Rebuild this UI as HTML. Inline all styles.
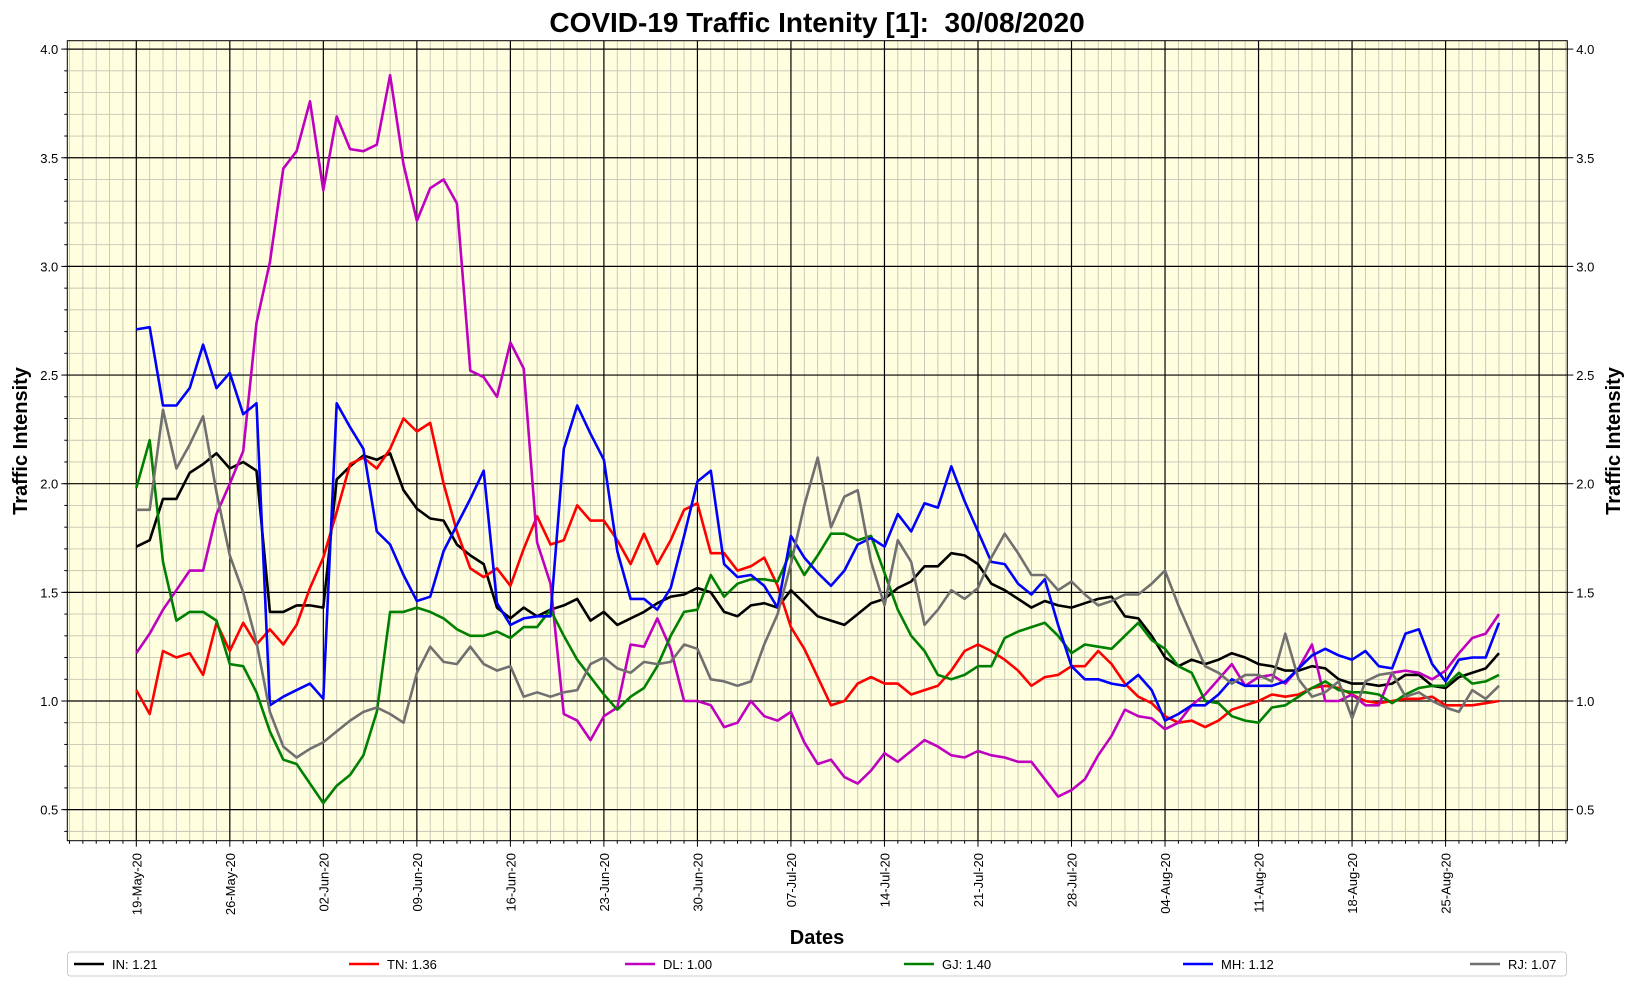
<!DOCTYPE html>
<html><head><meta charset="utf-8"><style>
body{margin:0;background:#fff;}
svg{display:block;font-family:"Liberation Sans","DejaVu Sans",sans-serif;}
</style></head><body>
<svg id="chart" width="1634" height="986" xmlns="http://www.w3.org/2000/svg">
<text x="817" y="32" font-size="28" font-weight="bold" text-anchor="middle">COVID-19 Traffic Intenity [1]:&#160; 30/08/2020</text>
<text transform="translate(27,441) rotate(-90)" font-size="20" font-weight="bold" text-anchor="middle">Traffic Intensity</text>
<text transform="translate(1620,441) rotate(-90)" font-size="20" font-weight="bold" text-anchor="middle">Traffic Intensity</text>
<text x="817" y="944" font-size="20" font-weight="bold" text-anchor="middle">Dates</text>
<g id="grid"></g><g id="series"></g><g id="axes"></g><g id="legend"></g>
</svg>
<script>
const tickLabels=["19-May-20","26-May-20","02-Jun-20","09-Jun-20","16-Jun-20","23-Jun-20","30-Jun-20","07-Jul-20","14-Jul-20","21-Jul-20","28-Jul-20","04-Aug-20","11-Aug-20","18-Aug-20","25-Aug-20"];
const yTicks=[0.5,1.0,1.5,2.0,2.5,3.0,3.5,4.0];
const seriesNames=["IN","TN","DL","GJ","MH","RJ"];
const legendLabels=["IN: 1.21","TN: 1.36","DL: 1.00","GJ: 1.40","MH: 1.12","RJ: 1.07"];
const IN=[1.71,1.74,1.93,1.93,2.05,2.09,2.14,2.07,2.10,2.06,1.41,1.41,1.44,1.44,1.43,2.02,2.08,2.13,2.11,2.14,1.97,1.885,1.84,1.83,1.72,1.67,1.63,1.43,1.38,1.43,1.39,1.42,1.44,1.47,1.37,1.41,1.35,1.38,1.41,1.45,1.48,1.49,1.52,1.50,1.41,1.39,1.44,1.45,1.43,1.51,1.45,1.39,1.37,1.35,1.40,1.45,1.47,1.52,1.55,1.62,1.62,1.68,1.67,1.63,1.54,1.51,1.47,1.43,1.46,1.44,1.43,1.45,1.47,1.48,1.39,1.38,1.30,1.20,1.16,1.19,1.17,1.19,1.22,1.20,1.17,1.16,1.14,1.14,1.16,1.15,1.10,1.08,1.08,1.07,1.08,1.12,1.12,1.07,1.06,1.11,1.13,1.15,1.22];
const TN=[1.05,0.94,1.23,1.20,1.22,1.12,1.36,1.23,1.36,1.26,1.33,1.26,1.35,1.52,1.66,1.87,2.09,2.12,2.07,2.16,2.30,2.24,2.28,2.00,1.78,1.61,1.57,1.61,1.53,1.70,1.85,1.72,1.74,1.90,1.83,1.83,1.74,1.63,1.77,1.63,1.74,1.88,1.91,1.68,1.68,1.60,1.62,1.66,1.53,1.34,1.24,1.11,0.98,1.00,1.08,1.11,1.08,1.08,1.03,1.05,1.07,1.14,1.23,1.26,1.23,1.19,1.14,1.07,1.11,1.12,1.16,1.16,1.23,1.17,1.08,1.02,0.99,0.93,0.90,0.91,0.88,0.91,0.96,0.98,1.00,1.03,1.02,1.03,1.06,1.07,1.06,1.03,1.00,0.99,1.00,1.01,1.01,1.02,0.98,0.98,0.98,0.99,1.00];
const DL=[1.22,1.31,1.42,1.51,1.60,1.60,1.86,2.00,2.15,2.74,3.02,3.45,3.53,3.76,3.35,3.69,3.54,3.53,3.56,3.88,3.47,3.21,3.36,3.40,3.29,2.52,2.49,2.40,2.65,2.53,1.73,1.54,0.94,0.91,0.82,0.93,0.97,1.26,1.25,1.38,1.24,1.00,1.00,0.98,0.88,0.90,1.00,0.93,0.91,0.95,0.81,0.71,0.73,0.65,0.62,0.68,0.76,0.72,0.77,0.82,0.79,0.75,0.74,0.77,0.75,0.74,0.72,0.72,0.64,0.56,0.59,0.64,0.75,0.84,0.96,0.93,0.92,0.87,0.90,0.98,1.03,1.10,1.17,1.07,1.11,1.12,1.08,1.15,1.26,1.00,1.00,1.03,0.98,0.98,1.13,1.14,1.13,1.10,1.14,1.22,1.29,1.31,1.40];
const GJ=[1.98,2.20,1.64,1.37,1.41,1.41,1.37,1.17,1.16,1.04,0.86,0.73,0.71,0.62,0.53,0.61,0.66,0.75,0.95,1.41,1.41,1.43,1.41,1.38,1.33,1.30,1.30,1.32,1.29,1.34,1.34,1.42,1.30,1.19,1.11,1.03,0.96,1.02,1.06,1.16,1.30,1.41,1.42,1.58,1.48,1.54,1.56,1.56,1.55,1.69,1.58,1.67,1.77,1.77,1.74,1.76,1.59,1.42,1.30,1.23,1.12,1.10,1.12,1.16,1.16,1.29,1.32,1.34,1.36,1.30,1.22,1.26,1.25,1.24,1.30,1.36,1.28,1.24,1.16,1.13,1.00,0.99,0.93,0.91,0.90,0.97,0.98,1.02,1.06,1.09,1.05,1.04,1.04,1.03,0.99,1.03,1.06,1.07,1.07,1.13,1.08,1.09,1.12];
const MH=[2.71,2.72,2.36,2.36,2.44,2.64,2.44,2.51,2.32,2.37,0.98,1.02,1.05,1.08,1.01,2.37,2.26,2.16,1.78,1.72,1.58,1.46,1.48,1.69,1.81,1.93,2.06,1.45,1.35,1.38,1.39,1.39,2.16,2.36,2.23,2.11,1.69,1.47,1.47,1.42,1.52,1.76,2.01,2.06,1.63,1.57,1.58,1.53,1.43,1.76,1.66,1.59,1.53,1.60,1.72,1.75,1.71,1.86,1.78,1.91,1.89,2.08,1.92,1.78,1.64,1.63,1.54,1.49,1.56,1.35,1.16,1.10,1.10,1.08,1.07,1.12,1.05,0.91,0.94,0.98,0.98,1.03,1.10,1.07,1.07,1.07,1.09,1.15,1.21,1.24,1.21,1.19,1.23,1.16,1.15,1.31,1.33,1.17,1.09,1.19,1.20,1.20,1.36];
const RJ=[1.88,1.88,2.34,2.07,2.18,2.31,1.96,1.67,1.50,1.27,0.95,0.79,0.74,0.78,0.81,0.86,0.91,0.95,0.97,0.94,0.90,1.13,1.25,1.18,1.17,1.25,1.17,1.14,1.16,1.02,1.04,1.02,1.04,1.05,1.17,1.20,1.15,1.13,1.18,1.17,1.18,1.26,1.24,1.10,1.09,1.07,1.09,1.26,1.40,1.63,1.90,2.12,1.80,1.94,1.97,1.64,1.44,1.74,1.64,1.35,1.42,1.51,1.47,1.52,1.66,1.77,1.68,1.58,1.58,1.51,1.55,1.49,1.44,1.46,1.49,1.49,1.54,1.60,1.44,1.30,1.16,1.13,1.08,1.12,1.12,1.09,1.31,1.10,1.02,1.04,1.09,0.92,1.09,1.12,1.13,1.02,1.04,1.00,0.97,0.95,1.05,1.01,1.07];
const seriesData=[IN,TN,DL,GJ,MH,RJ];
const colors=["#000000","#ff0000","#bf00bf","#008000","#0000ff","#707070"];

const L=67.3,R=1567.3,T=40.7,B=840.7;
function xPos(d){return 136.3+13.36*d;}
function yPos(v){return 701-217.3*(v-1);}
const NS="http://www.w3.org/2000/svg";
function mk(tag,attrs,parent){const e=document.createElementNS(NS,tag);for(const k in attrs)e.setAttribute(k,attrs[k]);parent.appendChild(e);return e;}
const grid=document.getElementById('grid'),axes=document.getElementById('axes'),ser=document.getElementById('series'),leg=document.getElementById('legend');
const bg=mk('rect',{x:L,y:T,width:R-L,height:B-T,fill:'#ffffe0'},grid);


for(let d=-5;d<=107;d++){const x=xPos(d);if(x<L||x>R)continue;
 if(d%7!==0) mk('line',{x1:x,x2:x,y1:T,y2:B,stroke:'#c4c4b4','stroke-width':0.9},grid);
 mk('line',{x1:x,x2:x,y1:B,y2:B+(d%7===0?6:3),stroke:'#000','stroke-width':1},axes);}
for(let i=4;i<=41;i++){const v=i/10;const y=yPos(v);if(y<T||y>B)continue;
 if(i%5!==0) mk('line',{x1:L,x2:R,y1:y,y2:y,stroke:'#c4c4b4','stroke-width':0.9},grid);
 mk('line',{x1:L-3,x2:L,y1:y,y2:y,stroke:'#000'},axes);}
for(let k=0;k<=15;k++){const x=xPos(7*k);mk('line',{x1:x,x2:x,y1:T,y2:B,stroke:'#000','stroke-width':1.2},grid);
 if(k<tickLabels.length){const t=mk('text',{transform:`translate(${x+5},853) rotate(-90)`,'font-size':13,'text-anchor':'end'},axes);t.textContent=tickLabels[k];
 
 }}
yTicks.forEach(v=>{const y=yPos(v);mk('line',{x1:L,x2:R,y1:y,y2:y,stroke:'#000','stroke-width':1.2},grid);
 mk('line',{x1:L-6,x2:L,y1:y,y2:y,stroke:'#000'},axes);mk('line',{x1:R,x2:R+6,y1:y,y2:y,stroke:'#000'},axes);
 const t=mk('text',{x:L-9,y:y+5,'font-size':13,'text-anchor':'end'},axes);t.textContent=v.toFixed(1);
 
 
 const t2=mk('text',{x:R+9,y:y+5,'font-size':13},axes);t2.textContent=v.toFixed(1);
 
 });
mk('rect',{x:L,y:T,width:R-L,height:B-T,fill:'none',stroke:'#000','stroke-width':1},axes);
seriesData.forEach((arr,i)=>{const p=mk('polyline',{points:arr.map((v,d)=>xPos(d).toFixed(1)+','+yPos(v).toFixed(1)).join(' '),fill:'none',stroke:colors[i],'stroke-width':2.6,'stroke-linejoin':'round'},ser);
 
 });
const lb=mk('rect',{x:67.5,y:952,width:1499,height:24,fill:'#fff',stroke:'#ccc','stroke-width':1,rx:3},leg);


const lx=[74,349,625,904,1183,1470];
legendLabels.forEach((s,i)=>{const g=mk('g',{},leg);
 
 
 mk('line',{x1:lx[i],x2:lx[i]+30,y1:964,y2:964,stroke:colors[i],'stroke-width':2.6},g);
 const t=mk('text',{x:lx[i]+38,y:969,'font-size':13},g);t.textContent=s;});
</script>
</body></html>
